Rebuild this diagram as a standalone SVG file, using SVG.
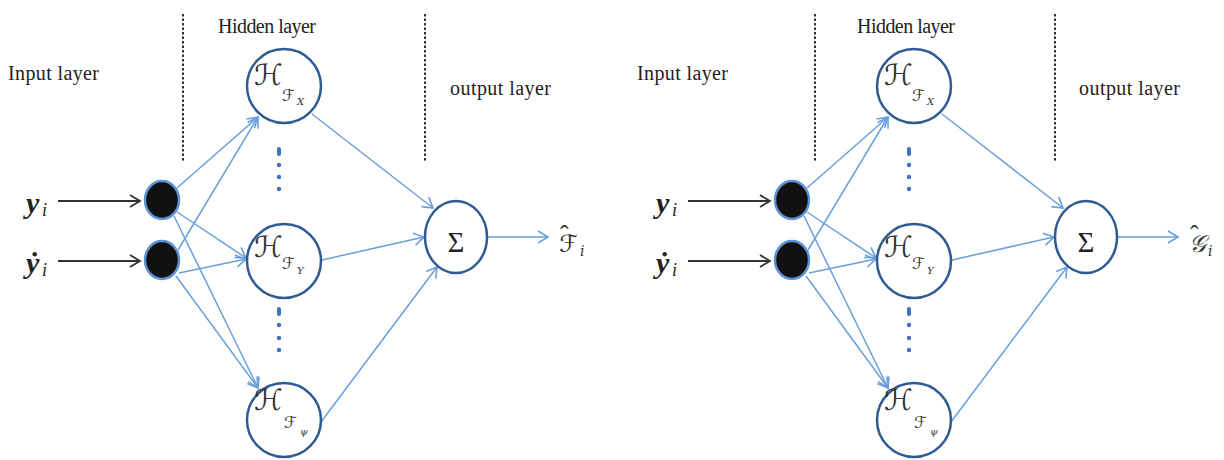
<svg xmlns="http://www.w3.org/2000/svg" width="1224" height="460" viewBox="0 0 1224 460">
<style>
.lbl{font-family:"Liberation Serif","Times New Roman",serif;font-size:20px;fill:#222}
.hid{fill:#fff;stroke:#2f5b93;stroke-width:2.5}
.inp{fill:#111;stroke:#5b93d3;stroke-width:2.5}
.sep{stroke:#333;stroke-width:2;stroke-dasharray:2.5 2}
.con{stroke:#6a9fdc;stroke-width:1.5;fill:none;marker-end:url(#ab)}
.blk{stroke:#333;stroke-width:2;fill:none;marker-end:url(#ak)}
.vd{fill:#3f73c0}
.scr{font-family:"DejaVu Serif","DejaVu Sans",serif;font-style:italic;fill:#333}
.yl{font-family:"Liberation Serif",serif;font-style:italic;font-weight:bold;font-size:30px;fill:#222}
.sub{font-family:"Liberation Serif",serif;font-style:italic;font-size:18px;fill:#222}
.sig{font-family:"Liberation Serif",serif;font-size:29px;fill:#222}
.hat{font-family:"Liberation Serif",serif;font-style:normal;font-size:26px;fill:#333}
</style>
<defs>
<marker id="ab" markerWidth="14" markerHeight="14" refX="11" refY="7" orient="auto" markerUnits="userSpaceOnUse">
<path d="M1,1 L11,7 L1,13" fill="none" stroke="#6a9fdc" stroke-width="1.6"/>
</marker>
<marker id="ak" markerWidth="14" markerHeight="14" refX="11" refY="7" orient="auto" markerUnits="userSpaceOnUse">
<path d="M1,1 L11,7 L1,13" fill="none" stroke="#333" stroke-width="1.8"/>
</marker>
</defs>
<rect width="1224" height="460" fill="#fff"/>

<!-- LEFT PANEL -->
<g id="left-panel">
<g id="L-labels">
<text class="lbl" x="8" y="80" textLength="91">Input layer</text>
<text class="lbl" x="218" y="33" textLength="98">Hidden layer</text>
<text class="lbl" x="450" y="95" textLength="101">output layer</text>
<line class="sep" x1="183" y1="14" x2="183" y2="161"/>
<line class="sep" x1="425" y1="14" x2="425" y2="162"/>
</g>
<g id="L-connectors">
<line class="blk" x1="58" y1="201" x2="140" y2="201"/>
<line class="blk" x1="58" y1="261" x2="140" y2="261"/>
<line class="con" x1="177" y1="188" x2="258" y2="117"/>
<line class="con" x1="177" y1="212" x2="246" y2="258"/>
<line class="con" x1="174" y1="216" x2="258" y2="388"/>
<line class="con" x1="178" y1="250" x2="258" y2="117"/>
<line class="con" x1="179" y1="273" x2="246" y2="259"/>
<line class="con" x1="176" y1="276" x2="258" y2="388"/>
<line class="con" x1="312" y1="114" x2="433" y2="208"/>
<line class="con" x1="322" y1="260" x2="424" y2="237"/>
<line class="con" x1="321" y1="422" x2="437" y2="267"/>
<line class="con" x1="488" y1="237" x2="548" y2="237"/>
</g>
<g id="L-in1"><ellipse class="inp" cx="162" cy="200" rx="17" ry="19"/><text class="yl" x="26" y="213">y</text><text class="sub" x="42" y="216">i</text></g>
<g id="L-in2"><ellipse class="inp" cx="162" cy="260" rx="17" ry="19"/><text class="yl" x="26" y="273">ẏ</text><text class="sub" x="42" y="276">i</text></g>
<g id="L-h1"><circle class="hid" cx="284" cy="86" r="37"/><text class="scr" x="254" y="85" font-size="29">ℋ</text><text class="scr" x="282" y="101" font-size="16">ℱ</text><text class="scr" x="297" y="105" font-size="10">X</text></g>
<g id="L-h2"><circle class="hid" cx="284" cy="261" r="37"/><text class="scr" x="254" y="257" font-size="29">ℋ</text><text class="scr" x="282" y="269" font-size="16">ℱ</text><text class="scr" x="297" y="274" font-size="10">Y</text></g>
<g id="L-h3"><circle class="hid" cx="284" cy="420" r="37"/><text class="scr" x="254" y="410" font-size="29">ℋ</text><text class="scr" x="284" y="428" font-size="16">ℱ</text><text class="scr" x="300" y="435" font-size="10">ψ</text></g>
<g id="L-dots1"><rect class="vd" x="277" y="147" width="4" height="9" rx="2"/><circle class="vd" cx="279" cy="165" r="2.2"/><circle class="vd" cx="279" cy="177" r="2.2"/><circle class="vd" cx="279" cy="189" r="2.2"/></g>
<g id="L-dots2"><rect class="vd" x="277" y="307" width="4" height="9" rx="2"/><circle class="vd" cx="279" cy="325" r="2.2"/><circle class="vd" cx="279" cy="338" r="2.2"/><circle class="vd" cx="279" cy="350" r="2.2"/></g>
<g id="L-sum"><ellipse class="hid" cx="456" cy="237" rx="31" ry="36"/><text class="sig" x="456" y="252" text-anchor="middle">Σ</text></g>
<g id="L-out"><text class="scr" x="559" y="252" font-size="24">ℱ<tspan class="hat" x="560" y="243">ˆ</tspan><tspan x="580" y="256" font-size="14">i</tspan></text></g>
</g>

<!-- RIGHT PANEL -->
<g id="right-panel" transform="translate(630,0)">
<g id="R-labels">
<text class="lbl" x="7" y="80" textLength="91">Input layer</text>
<text class="lbl" x="227" y="33" textLength="98">Hidden layer</text>
<text class="lbl" x="449" y="95" textLength="101">output layer</text>
<line class="sep" x1="185" y1="14" x2="185" y2="161"/>
<line class="sep" x1="425" y1="14" x2="425" y2="162"/>
</g>
<g id="R-connectors">
<line class="blk" x1="58" y1="201" x2="140" y2="201"/>
<line class="blk" x1="58" y1="261" x2="140" y2="261"/>
<line class="con" x1="177" y1="188" x2="258" y2="117"/>
<line class="con" x1="177" y1="212" x2="246" y2="258"/>
<line class="con" x1="174" y1="216" x2="258" y2="388"/>
<line class="con" x1="178" y1="250" x2="258" y2="117"/>
<line class="con" x1="179" y1="273" x2="246" y2="259"/>
<line class="con" x1="176" y1="276" x2="258" y2="388"/>
<line class="con" x1="312" y1="114" x2="433" y2="208"/>
<line class="con" x1="322" y1="260" x2="424" y2="237"/>
<line class="con" x1="321" y1="422" x2="437" y2="267"/>
<line class="con" x1="488" y1="237" x2="548" y2="237"/>
</g>
<g id="R-in1"><ellipse class="inp" cx="162" cy="200" rx="17" ry="19"/><text class="yl" x="26" y="213">y</text><text class="sub" x="42" y="216">i</text></g>
<g id="R-in2"><ellipse class="inp" cx="162" cy="260" rx="17" ry="19"/><text class="yl" x="26" y="273">ẏ</text><text class="sub" x="42" y="276">i</text></g>
<g id="R-h1"><circle class="hid" cx="284" cy="86" r="37"/><text class="scr" x="254" y="85" font-size="29">ℋ</text><text class="scr" x="282" y="101" font-size="16">ℱ</text><text class="scr" x="297" y="105" font-size="10">X</text></g>
<g id="R-h2"><circle class="hid" cx="284" cy="261" r="37"/><text class="scr" x="254" y="257" font-size="29">ℋ</text><text class="scr" x="282" y="269" font-size="16">ℱ</text><text class="scr" x="297" y="274" font-size="10">Y</text></g>
<g id="R-h3"><circle class="hid" cx="284" cy="420" r="37"/><text class="scr" x="254" y="410" font-size="29">ℋ</text><text class="scr" x="284" y="428" font-size="16">ℱ</text><text class="scr" x="300" y="435" font-size="10">ψ</text></g>
<g id="R-dots1"><rect class="vd" x="277" y="147" width="4" height="9" rx="2"/><circle class="vd" cx="279" cy="165" r="2.2"/><circle class="vd" cx="279" cy="177" r="2.2"/><circle class="vd" cx="279" cy="189" r="2.2"/></g>
<g id="R-dots2"><rect class="vd" x="277" y="307" width="4" height="9" rx="2"/><circle class="vd" cx="279" cy="325" r="2.2"/><circle class="vd" cx="279" cy="338" r="2.2"/><circle class="vd" cx="279" cy="350" r="2.2"/></g>
<g id="R-sum"><ellipse class="hid" cx="456" cy="237" rx="31" ry="36"/><text class="sig" x="456" y="252" text-anchor="middle">Σ</text></g>
<g id="R-out"><text class="scr" x="559" y="252" font-size="24">𝒢<tspan class="hat" x="560" y="243">ˆ</tspan><tspan x="578" y="256" font-size="14">i</tspan></text></g>
</g>
</svg>
